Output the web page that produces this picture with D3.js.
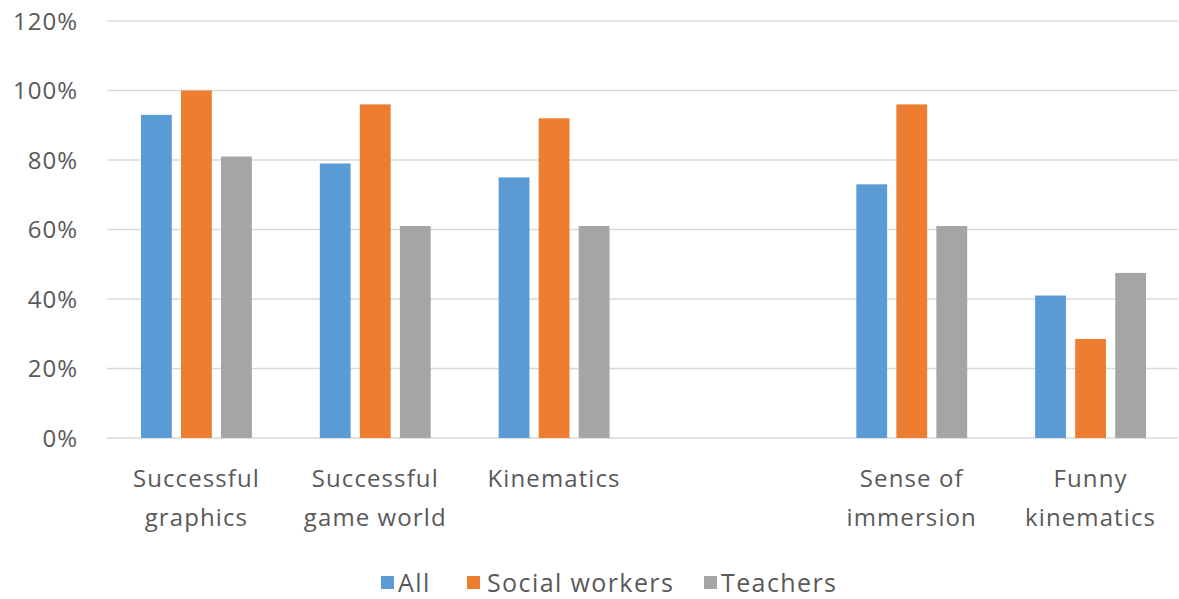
<!DOCTYPE html>
<html>
<head>
<meta charset="utf-8">
<script src="https://cdn.jsdelivr.net/npm/d3@7"></script>
<style>
  body { margin: 0; background: #fff; }
  text { font-family: "Open Sans", sans-serif; fill: #595959; }
</style>
</head>
<body>
<div id="chart"></div>
<script>
// categories (one empty slot kept, as in the original)
const categories = ["Successful graphics", "Successful game world", "Kinematics", "", "Sense of immersion", "Funny kinematics"];
const labelLines = [["Successful", "graphics"], ["Successful", "game world"], ["Kinematics"], [], ["Sense of", "immersion"], ["Funny", "kinematics"]];
const seriesNames = ["All", "Social workers", "Teachers"];
const allValues = [0.93, 0.79, 0.75, null, 0.73, 0.41];
const socialValues = [1.00, 0.96, 0.92, null, 0.96, 0.285];
const teacherValues = [0.81, 0.61, 0.61, null, 0.61, 0.475];
const yTicks = [0, 0.2, 0.4, 0.6, 0.8, 1.0, 1.2];
const colors = ["#5B9BD5", "#ED7D31", "#A5A5A5"];

const W = 1179, H = 599;
const margin = {top: 21, right: 0, bottom: 161, left: 107};
const innerW = 1180 - margin.left, innerH = 438 - margin.top;

const svg = d3.select("#chart").append("svg")
  .attr("width", W).attr("height", H);
const g = svg.append("g").attr("transform", `translate(${margin.left},${margin.top})`);

const x0 = d3.scaleBand().domain(categories.map((c, i) => i)).range([0, innerW])
  .paddingInner(0.38).paddingOuter(0.19);
const x1 = d3.scaleBand().domain(seriesNames).range([0, x0.bandwidth()]).paddingInner(0.23);
const y = d3.scaleLinear().domain([0, 1.2]).range([innerH, 0]);

// gridlines
g.append("g").selectAll("line").data(yTicks).enter().append("line")
  .attr("x1", 0).attr("x2", 1178 - margin.left)
  .attr("y1", d => y(d)).attr("y2", d => y(d))
  .attr("stroke", "#D9D9D9").attr("stroke-width", 1.5);

// y tick labels
g.append("g").selectAll("text").data(yTicks).enter().append("text")
  .attr("x", -29).attr("y", d => y(d)).attr("dy", "0.36em")
  .attr("text-anchor", "end").style("font-size", "24px").style("letter-spacing", "1px")
  .text(d => d3.format(".0%")(d));

const series = [allValues, socialValues, teacherValues];
series.forEach((vals, s) => {
  g.append("g").selectAll("rect")
    .data(vals.map((v, i) => ({i, v})).filter(d => d.v != null))
    .enter().append("rect")
    .attr("x", d => x0(d.i) + x1(seriesNames[s]))
    .attr("width", x1.bandwidth())
    .attr("y", d => y(d.v))
    .attr("height", d => innerH - y(d.v))
    .attr("fill", colors[s]);
});

// category labels
const lab = g.append("g").selectAll("text").data(labelLines).enter().append("text")
  .attr("text-anchor", "middle")
  .attr("transform", (d, i) => `translate(${x0(i) + x0.bandwidth() / 2},${innerH + 49})`)
  .style("font-size", "24px").style("letter-spacing", "1.1px");
lab.selectAll("tspan").data(d => d).enter().append("tspan")
  .attr("x", 0).attr("y", (d, j) => j * 39)
  .text(d => d);

// legend
const legendX = [381, 467, 704];
const leg = svg.append("g").selectAll("g").data(seriesNames).enter().append("g")
  .attr("transform", (d, i) => `translate(${legendX[i]},583)`);
leg.append("rect").attr("x", 0).attr("y", -7).attr("width", 13).attr("height", 13)
  .attr("fill", (d, i) => colors[i]);
leg.append("text").attr("x", (d, i) => i === 1 ? 20 : 17).attr("y", 0).attr("dy", "0.36em")
  .style("font-size", "25px").style("letter-spacing", "1.4px").text(d => d);
</script>
</body>
</html>
